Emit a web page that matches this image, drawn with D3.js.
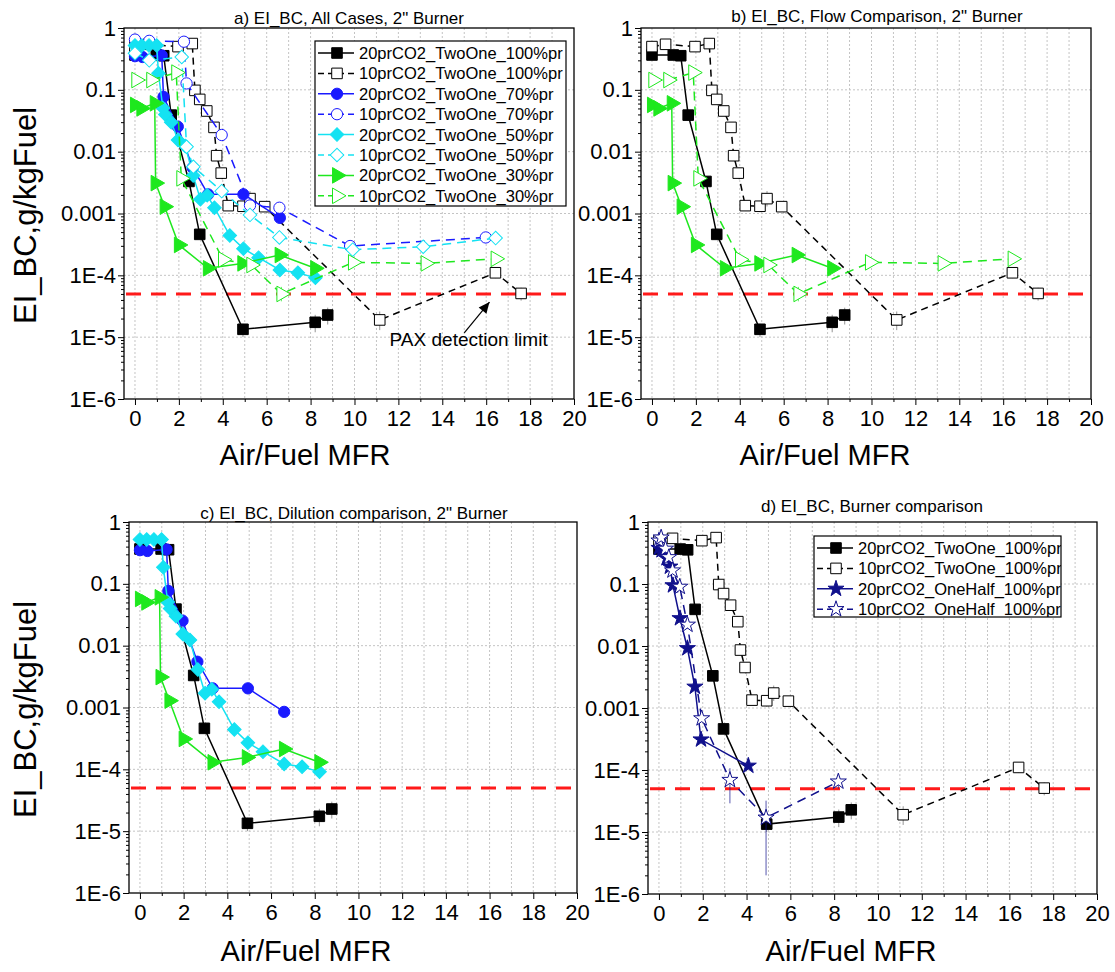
<!DOCTYPE html>
<html lang="en">
<head>
<meta charset="UTF-8">
<title>EI_BC</title>
<script src="https://cdn.jsdelivr.net/npm/d3@7"></script>
<style>
    body { margin: 0; background: #fff; }
    text { font-family: "Liberation Sans", Arial, sans-serif; fill: #000; }
</style>
</head>
<body>
<div id="main_container"></div>
<script>

    // ---- data (x = Air/Fuel MFR, y = EI_BC g/kgFuel) ----
    var s20_100_x = [0, 0.97, 1.31, 1.65, 2.46, 2.95, 4.92, 8.21, 8.78];
    var s20_100_y = [0.366, 0.366, 0.356, 0.039, 0.0033, 4.6e-4, 1.34e-5, 1.74e-5, 2.28e-5];

    var s10_100_x = [0, 0.62, 1.96, 2.61, 2.73, 2.95, 3.27, 3.60, 3.72, 3.93, 4.25, 4.92, 5.24, 5.91, 11.15, 16.42, 17.59];
    var s10_100_y = [0.5, 0.545, 0.5, 0.56, 0.098, 0.07, 0.0455, 0.0247, 0.0086, 0.0045, 0.00134, 0.00131, 0.00174, 0.00129, 1.9e-5, 1.1e-4, 5.1e-5];

    var s20_70_x = [0, 0.34, 1.22, 1.3, 1.95, 2.63, 3.33, 4.94, 6.6];
    var s20_70_y = [0.35, 0.34, 0.36, 0.077, 0.0254, 0.0055, 0.00204, 0.00204, 8.5e-4];

    var s10_70_x = [0, 0.65, 2.23, 2.35, 3.95, 5.24, 6.58, 9.8, 15.98];
    var s10_70_y = [0.65, 0.62, 0.6, 0.127, 0.0186, 0.00135, 0.00124, 2.98e-4, 4.1e-4];

    var s20_50_x = [0, 0.31, 0.64, 0.99, 1.07, 1.27, 1.38, 1.65, 1.96, 2.29, 2.65, 2.98, 3.29, 3.62, 4.32, 4.94, 5.63, 6.6, 7.42, 8.22];
    var s20_50_y = [0.52, 0.52, 0.52, 0.52, 0.185, 0.051, 0.04, 0.030, 0.0155, 0.0124, 0.0041, 0.0017, 0.00197, 0.00124, 4.4e-4, 2.7e-4, 1.93e-4, 1.22e-4, 1.1e-4, 9.1e-5];

    var s10_50_x = [0, 0.65, 2.13, 2.35, 2.66, 3.95, 5.24, 6.58, 9.92, 13.13, 16.43];
    var s10_50_y = [0.39, 0.30, 0.34, 0.012, 0.0057, 0.0023, 9.5e-4, 4.1e-4, 2.6e-4, 2.9e-4, 4.0e-4];

    var s20_30_x = [0, 0.29, 0.9, 0.94, 1.35, 2.0, 3.32, 4.89, 6.59, 8.21];
    var s20_30_y = [0.057, 0.05, 0.0605, 0.0031, 0.00129, 3.1e-4, 1.3e-4, 1.56e-4, 2.13e-4, 1.3e-4];

    var s10_30_x = [0.06, 0.74, 1.88, 2.11, 4.01, 5.3, 6.67, 9.93, 13.24, 16.43];
    var s10_30_y = [0.144, 0.144, 0.19, 0.0037, 1.8e-4, 1.47e-4, 5.0e-5, 1.62e-4, 1.56e-4, 1.85e-4];

    var s20h_x = [0, 0.12, 0.35, 0.5, 0.64, 0.96, 1.3, 1.64, 1.92, 4.08];
    var s20h_y = [0.38, 0.35, 0.26, 0.19, 0.095, 0.028, 0.0092, 0.0022, 3.1e-4, 1.17e-4];

    var s10h_x = [0, 0.1, 0.3, 0.45, 0.62, 0.95, 1.3, 1.95, 3.24, 4.89, 8.19];
    var s10h_y = [0.5, 0.56, 0.37, 0.27, 0.165, 0.09, 0.022, 6.8e-4, 6.9e-5, 1.7e-5, 6.5e-5];

    // error bars that are big enough to see: [series, x, low, high]
    var errBars = [
        ["s20_100", 4.92, 1.0e-5, 1.65e-5], ["s20_100", 8.21, 1.2e-5, 2.3e-5], ["s20_100", 8.78, 1.6e-5, 3.0e-5],
        ["s10_100", 11.15, 1.3e-5, 2.6e-5], ["s10_100", 16.42, 9.0e-5, 1.2e-4], ["s10_100", 17.59, 3.9e-5, 6.3e-5],
        ["s10_100", 5.24, 1.3e-3, 2.3e-3], ["s10_100", 4.92, 1.05e-3, 1.6e-3],
        ["s10_70", 15.98, 3.3e-4, 5.0e-4], ["s10_30", 6.67, 3.8e-5, 6.5e-5],
        ["s10h", 4.89, 2.0e-6, 3.2e-5], ["s10h", 3.24, 2.9e-5, 1.07e-4], ["s10h", 8.19, 5.0e-5, 8.5e-5]
    ];

    var detectionLimit = 5e-5;
    var yTicks = [1, 0.1, 0.01, 0.001, 1e-4, 1e-5, 1e-6];
    var yTickLabels = ["1", "0.1", "0.01", "0.001", "1E-4", "1E-5", "1E-6"];
    var xTicks = [0, 2, 4, 6, 8, 10, 12, 14, 16, 18, 20];

    var seriesData = {
        s20_100: [s20_100_x, s20_100_y], s10_100: [s10_100_x, s10_100_y],
        s20_70: [s20_70_x, s20_70_y], s10_70: [s10_70_x, s10_70_y],
        s20_50: [s20_50_x, s20_50_y], s10_50: [s10_50_x, s10_50_y],
        s20_30: [s20_30_x, s20_30_y], s10_30: [s10_30_x, s10_30_y],
        s20h: [s20h_x, s20h_y], s10h: [s10h_x, s10h_y]
    };

    var green = "#1ee81e", cyan = "#14e2f2", blue = "#1a1aff", navy = "#10108c";
    var seriesStyle = {
        s20_100: {name: "20prCO2_TwoOne_100%pr", color: "#000", dash: null, marker: "square", open: false},
        s10_100: {name: "10prCO2_TwoOne_100%pr", color: "#000", dash: "7,5", marker: "square", open: true},
        s20_70: {name: "20prCO2_TwoOne_70%pr", color: blue, dash: null, marker: "circle", open: false},
        s10_70: {name: "10prCO2_TwoOne_70%pr", color: blue, dash: "9,6", marker: "circle", open: true},
        s20_50: {name: "20prCO2_TwoOne_50%pr", color: cyan, dash: null, marker: "diamond", open: false},
        s10_50: {name: "10prCO2_TwoOne_50%pr", color: cyan, dash: "9,6", marker: "diamond", open: true},
        s20_30: {name: "20prCO2_TwoOne_30%pr", color: green, dash: null, marker: "triangle", open: false},
        s10_30: {name: "10prCO2_TwoOne_30%pr", color: green, dash: "9,6", marker: "triangle", open: true},
        s20h: {name: "20prCO2_OneHalf_100%pr", color: navy, dash: null, marker: "star", open: false},
        s10h: {name: "10prCO2_OneHalf_100%pr", color: navy, dash: "9,6", marker: "star", open: true}
    };

    var panels = [
        {left: 124, top: 28, right: 574, bottom: 399, title: "a) EI_BC, All Cases, 2\" Burner", titleX: 349, titleY: 24,
         series: ["s20_100", "s10_100", "s20_70", "s10_70", "s20_50", "s10_50", "s20_30", "s10_30"],
         legend: {x: 315, y: 41, w: 251, h: 165}, yTitle: true, xTitleX: 305, xTitleY: 465, pax: true},
        {left: 641, top: 28, right: 1091, bottom: 399, title: "b) EI_BC, Flow Comparison, 2\" Burner", titleX: 877, titleY: 22,
         series: ["s20_100", "s10_100", "s20_30", "s10_30"], xTitleX: 825, xTitleY: 465},
        {left: 129, top: 522, right: 577, bottom: 893, title: "c) EI_BC, Dilution comparison, 2\" Burner", titleX: 354, titleY: 519,
         series: ["s20_100", "s20_70", "s20_50", "s20_30"], yTitle: true, xTitleX: 306, xTitleY: 961},
        {left: 648, top: 522, right: 1097, bottom: 894, title: "d) EI_BC, Burner comparison", titleX: 872, titleY: 512,
         series: ["s20_100", "s10_100", "s20h", "s10h"],
         legend: {x: 814, y: 536, w: 247, h: 81}, xTitleX: 851, xTitleY: 961}
    ];

    var svg = d3.select("#main_container").append("svg")
        .attr("width", 1115)
        .attr("height", 972);

    function markerPath(type) {
        if (type == "square") return d3.symbol(d3.symbolSquare, 112)();
        if (type == "circle") return d3.symbol(d3.symbolCircle, 100)();
        if (type == "diamond") return d3.symbol(d3.symbolSquare, 92)();
        if (type == "triangle") return d3.symbol(d3.symbolTriangle, 105)();
        return d3.symbol(d3.symbolStar, 80)();
    }
    function markerRot(type) {
        if (type == "diamond") return " rotate(45)";
        if (type == "triangle") return " rotate(90)";
        return "";
    }

    panels.forEach(function(p, pi) {
        var x = d3.scaleLinear().domain([-0.5, 20]).range([p.left, p.right]);
        var y = d3.scaleLog().domain([1e-6, 1]).range([p.bottom, p.top]);
        var g = svg.append("g");

        // grid
        g.selectAll(".gx").data(d3.range(0, 20)).enter().append("line")
            .attr("x1", function(d){ return x(d); }).attr("x2", function(d){ return x(d); })
            .attr("y1", p.top).attr("y2", p.bottom)
            .attr("stroke", "#c4c4c4").attr("stroke-width", 1).attr("stroke-dasharray", "2,2");
        g.selectAll(".gy").data([0.1, 0.01, 0.001, 1e-4, 1e-5]).enter().append("line")
            .attr("y1", function(d){ return y(d); }).attr("y2", function(d){ return y(d); })
            .attr("x1", p.left).attr("x2", p.right)
            .attr("stroke", "#c4c4c4").attr("stroke-width", 1).attr("stroke-dasharray", "2,2");

        // axes
        var ax = g.append("g").attr("transform", "translate(0," + p.bottom + ")")
            .call(d3.axisBottom(x).tickValues(xTicks).tickSize(6).tickSizeOuter(0).tickPadding(5));
        ax.select(".domain").remove();
        ax.selectAll("text").style("font-size", "22px").style("font-family", "Liberation Sans, Arial, sans-serif");
        var axm = g.append("g").attr("transform", "translate(0," + p.bottom + ")")
            .call(d3.axisBottom(x).tickValues(d3.range(1, 20, 2)).tickSize(3).tickFormat(""));
        axm.select(".domain").remove();

        var ay = g.append("g").attr("transform", "translate(" + p.left + ",0)")
            .call(d3.axisLeft(y).tickValues(yTicks).tickSize(6).tickSizeOuter(0).tickPadding(2)
                .tickFormat(function(d, i){ return yTickLabels[i]; }));
        ay.select(".domain").remove();
        ay.selectAll("text").style("font-size", "22px").style("font-family", "Liberation Sans, Arial, sans-serif");
        var minor = [];
        for (var e = -6; e < 0; e++) for (var m = 2; m < 10; m++) minor.push(m * Math.pow(10, e));
        var aym = g.append("g").attr("transform", "translate(" + p.left + ",0)")
            .call(d3.axisLeft(y).tickValues(minor).tickSize(3).tickFormat(""));
        aym.select(".domain").remove();

        // detection limit
        g.append("line")
            .attr("x1", p.left + 2).attr("x2", p.right)
            .attr("y1", y(detectionLimit)).attr("y2", y(detectionLimit))
            .attr("stroke", "#ff1a1a").attr("stroke-width", 3).attr("stroke-dasharray", "15,10");

        var line = d3.line().x(function(d){ return x(d[0]); }).y(function(d){ return y(d[1]); });

        p.series.forEach(function(k) {
            var st = seriesStyle[k];
            var pts = seriesData[k][0].map(function(v, i){ return [v, seriesData[k][1][i]]; });
            var sg = g.append("g");
            errBars.filter(function(b){ return b[0] == k; }).forEach(function(b) {
                sg.append("line")
                    .attr("x1", x(b[1])).attr("x2", x(b[1]))
                    .attr("y1", y(b[2])).attr("y2", y(b[3]))
                    .attr("stroke", st.color == "#000" ? "#666" : st.color)
                    .attr("stroke-opacity", 0.7).attr("stroke-width", 1);
            });
            sg.append("path").datum(pts)
                .attr("d", line)
                .attr("fill", "none")
                .attr("stroke", st.color)
                .attr("stroke-width", 1.5)
                .attr("stroke-dasharray", st.dash);
            sg.selectAll(".pt").data(pts).enter().append("path")
                .attr("d", markerPath(st.marker))
                .attr("transform", function(d){ return "translate(" + x(d[0]) + "," + y(d[1]) + ")" + markerRot(st.marker); })
                .attr("fill", st.open ? "#fff" : st.color)
                .attr("stroke", st.color)
                .attr("stroke-width", 1);
        });

        // frame
        g.append("rect")
            .attr("x", p.left).attr("y", p.top)
            .attr("width", p.right - p.left).attr("height", p.bottom - p.top)
            .attr("fill", "none").attr("stroke", "#000").attr("stroke-width", 1.3);

        // titles
        g.append("text").attr("x", p.titleX).attr("y", p.titleY)
            .attr("text-anchor", "middle").style("font-size", "17px").text(p.title);
        g.append("text").attr("x", p.xTitleX).attr("y", p.xTitleY)
            .attr("text-anchor", "middle").style("font-size", "29px").text("Air/Fuel MFR");
        if (p.yTitle) {
            g.append("text")
                .attr("transform", "translate(36," + ((p.top + p.bottom) / 2 + 2) + ") rotate(-90)")
                .attr("text-anchor", "middle").style("font-size", "31px").text("EI_BC,g/kgFuel");
        }

        // legend
        if (p.legend) {
            var L = p.legend;
            svg.append("clipPath").attr("id", "legclip" + pi).append("rect")
                .attr("x", L.x).attr("y", L.y).attr("width", L.w).attr("height", L.h);
            var lg = g.append("g").attr("clip-path", "url(#legclip" + pi + ")");
            lg.append("rect").attr("x", L.x).attr("y", L.y).attr("width", L.w).attr("height", L.h)
                .attr("fill", "#fff");
            p.series.forEach(function(k, i) {
                var st = seriesStyle[k];
                var ly = L.y + 12 + i * 20.4;
                lg.append("line").attr("x1", L.x + 3).attr("x2", L.x + 39).attr("y1", ly).attr("y2", ly)
                    .attr("stroke", st.color).attr("stroke-width", 1.5).attr("stroke-dasharray", st.dash ? "6,4" : null);
                lg.append("path").attr("d", markerPath(st.marker))
                    .attr("transform", "translate(" + (L.x + 22) + "," + ly + ")" + markerRot(st.marker))
                    .attr("fill", st.open ? "#fff" : st.color).attr("stroke", st.color);
                lg.append("text").attr("x", L.x + 44).attr("y", ly + 6)
                    .style("font-size", "16.5px").text(st.name);
            });
            g.append("rect").attr("x", L.x).attr("y", L.y).attr("width", L.w).attr("height", L.h)
                .attr("fill", "none").attr("stroke", "#000").attr("stroke-width", 1.2);
        }

        // detection limit note
        if (p.pax) {
            g.append("text").attr("x", x(11.6)).attr("y", y(7.3e-6))
                .style("font-size", "19px").text("PAX detection limit");
            var ax0 = x(15.0), ay0 = y(1.17e-5), ax1 = x(16.15), ay1 = y(3.7e-5);
            g.append("line").attr("x1", ax0).attr("y1", ay0).attr("x2", ax1).attr("y2", ay1)
                .attr("stroke", "#000").attr("stroke-width", 1.2);
            var ang = Math.atan2(ay1 - ay0, ax1 - ax0) * 180 / Math.PI;
            g.append("path").attr("d", "M0,0 L-11,-5 L-11,5 Z")
                .attr("transform", "translate(" + ax1 + "," + ay1 + ") rotate(" + ang + ")")
                .attr("fill", "#000");
        }
    });
</script>
</body>
</html>
